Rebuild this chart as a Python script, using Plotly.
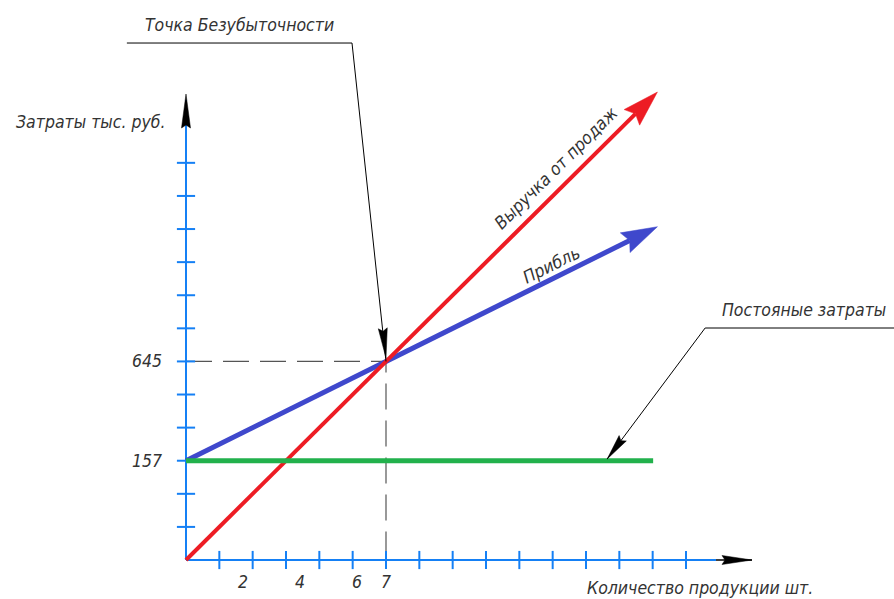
import math

import plotly.graph_objects as go

# values
# x: quantity of products, y: cost in drawing grid units (the sketch is not to scale)
breakeven_qty = 7
breakeven_level = 6
qty_ticklabels = [2, 4, 6, 7]
cost_levels = [3, 6]
cost_labels = ["157", "645"]

revenue_qty = [0, 7, 16.5]
revenue_val = [0, 6, 14.14]
cost_qty = [0, 7, 16.5]
cost_val = [3, 6, 10.07]
fixed_qty = [0, 16.35]
fixed_val = [3, 3]

x_grid_step = 7 / 6
x_grid_count = 15
y_grid_count = 12

# drawing frame
W, H = 894, 599
X_RANGE = [-6.51, 24.78]
Y_RANGE = [-1.178, 16.92]
SX = W / (X_RANGE[1] - X_RANGE[0])
SY = H / (Y_RANGE[1] - Y_RANGE[0])

AXIS_BLUE = "#1580f5"
RED = "#ed1c24"
BLUE = "#3f48cc"
GREEN = "#22b14c"
INK = "#333333"
FONT = dict(family="Liberation Sans Narrow, DejaVu Sans Condensed, Arial Narrow, sans-serif",
            size=17.5, color=INK, style="italic")


def head(tip, tail, color, length, half_w, notch):
    """Filled arrow head (tip at `tip`, pointing away from `tail`), sized in pixels."""
    dx = (tip[0] - tail[0]) * SX
    dy = (tip[1] - tail[1]) * SY
    n = math.hypot(dx, dy)
    ux, uy = dx / n, dy / n
    px, py = -uy, ux
    pts = [
        (0, 0),
        (-length * ux + half_w * px, -length * uy + half_w * py),
        (-(length - notch) * ux, -(length - notch) * uy),
        (-length * ux - half_w * px, -length * uy - half_w * py),
        (0, 0),
    ]
    xs = [tip[0] + a / SX for a, b in pts]
    ys = [tip[1] + b / SY for a, b in pts]
    shaft_end = (tip[0] - (length - notch) * ux / SX, tip[1] - (length - notch) * uy / SY)
    trace = go.Scatter(x=xs, y=ys, mode="lines", fill="toself", fillcolor=color,
                       line=dict(color=color, width=0.5), hoverinfo="skip")
    return trace, shaft_end


def line(xs, ys, color, width, dash=None):
    return go.Scatter(x=xs, y=ys, mode="lines", hoverinfo="skip",
                      line=dict(color=color, width=width, dash=dash))


fig = go.Figure()

# dashed guides to the break-even point
fig.add_trace(line([0, breakeven_qty, breakeven_qty], [breakeven_level, breakeven_level, 0],
                   "#555555", 1.2, "26px,11px"))

# axes with crossing ticks
y_top = 14.08
x_tip = 19.81
fig.add_trace(line([0, 0], [0, 13.9], AXIS_BLUE, 2))
fig.add_trace(line([0, 18.55], [0, 0], AXIS_BLUE, 2))
fig.add_trace(go.Scatter(
    x=[0] * y_grid_count, y=list(range(1, y_grid_count + 1)), mode="markers", hoverinfo="skip",
    marker=dict(symbol="line-ew", size=13, line=dict(color=AXIS_BLUE, width=2))))
fig.add_trace(go.Scatter(
    x=[x_grid_step * k for k in range(1, x_grid_count + 1)], y=[0] * x_grid_count,
    mode="markers", hoverinfo="skip",
    marker=dict(symbol="line-ns", size=13, line=dict(color=AXIS_BLUE, width=2))))
tr, _ = head((0, y_top), (0, 0), "black", 34, 4.5, 3)
fig.add_trace(tr)
fig.add_trace(line([18.55, x_tip], [0, 0], "black", 1.5))
tr, _ = head((x_tip, 0), (0, 0), "black", 30, 4.5, 3)
fig.add_trace(tr)

# total cost ("Прибль") line
cost_head, cost_shaft = head((cost_qty[-1], cost_val[-1]), (cost_qty[1], cost_val[1]), BLUE, 36, 11, 5)
fig.add_trace(line(cost_qty[:-1] + [cost_shaft[0]], cost_val[:-1] + [cost_shaft[1]], BLUE, 5))
fig.add_trace(cost_head)

# revenue line
rev_head, rev_shaft = head((revenue_qty[-1], revenue_val[-1]), (revenue_qty[1], revenue_val[1]), RED, 36, 11, 5)
fig.add_trace(line(revenue_qty[:-1] + [rev_shaft[0]], revenue_val[:-1] + [rev_shaft[1]], RED, 4))
fig.add_trace(rev_head)

# fixed costs
fig.add_trace(line(fixed_qty, fixed_val, GREEN, 5))

# leader: break-even point
shelf1 = dict(x0=-2.07, x1=5.81, y=15.62)
fig.add_trace(line([shelf1["x0"], shelf1["x1"], breakeven_qty],
                   [shelf1["y"], shelf1["y"], breakeven_level], "black", 1))
tr, _ = head((breakeven_qty, breakeven_level + 0.1), (shelf1["x1"], shelf1["y"]), "black", 30, 4.5, 3)
fig.add_trace(tr)

# leader: fixed costs
shelf2 = dict(x0=18.17, x1=24.9, y=7.01)
fixed_tip = (14.74, fixed_val[0] + 0.05)
fig.add_trace(line([shelf2["x1"], shelf2["x0"], fixed_tip[0]],
                   [shelf2["y"], shelf2["y"], fixed_tip[1]], "black", 1))
tr, _ = head(fixed_tip, (shelf2["x0"], shelf2["y"]), "black", 26, 4.5, 3)
fig.add_trace(tr)


def slope_angle(xs, ys):
    return -math.degrees(math.atan2((ys[1] - ys[0]) * SY, (xs[1] - xs[0]) * SX))


annotations = []
# tick labels
for lvl, txt in zip(cost_levels, cost_labels):
    annotations.append(dict(x=0, y=lvl, text=txt, xanchor="right", yanchor="middle", xshift=-22))
for q in qty_ticklabels:
    annotations.append(dict(x=q, y=0, text=str(q), xanchor="center", yanchor="middle", yshift=-22))

annotations += [
    dict(x=0, y=13.23, text="Затраты тыс. руб.", xanchor="right", yanchor="middle", xshift=-19),
    dict(x=17.99, y=0, text="Количество продукции шт.", xanchor="center", yanchor="middle", yshift=-28),
    dict(x=(shelf1["x0"] + shelf1["x1"]) / 2, y=shelf1["y"], text="Точка Безубыточности",
         xanchor="center", yanchor="middle", yshift=18),
    dict(x=21.63, y=shelf2["y"], text="Постояные затраты", xanchor="center", yanchor="middle", yshift=18),
    dict(x=13.38, y=revenue_val[1] / revenue_qty[1] * 13.38, text="Выручка от продаж",
         textangle=slope_angle(revenue_qty, revenue_val), xshift=-12, yshift=12),
    dict(x=13.0, y=cost_val[0] + (cost_val[1] - cost_val[0]) / cost_qty[1] * 13.0, text="Прибль",
         textangle=slope_angle(cost_qty, cost_val), xshift=-6, yshift=11),
]
for a in annotations:
    a.update(xref="x", yref="y", showarrow=False, font=FONT)

fig.update_layout(
    width=W, height=H,
    margin=dict(l=0, r=0, t=0, b=0),
    paper_bgcolor="white", plot_bgcolor="white",
    showlegend=False,
    xaxis=dict(range=X_RANGE, visible=False, fixedrange=True),
    yaxis=dict(range=Y_RANGE, visible=False, fixedrange=True),
    annotations=annotations,
)

fig.write_html("out.html", config={"displayModeBar": False},
               post_script="document.body.style.margin='0';")
